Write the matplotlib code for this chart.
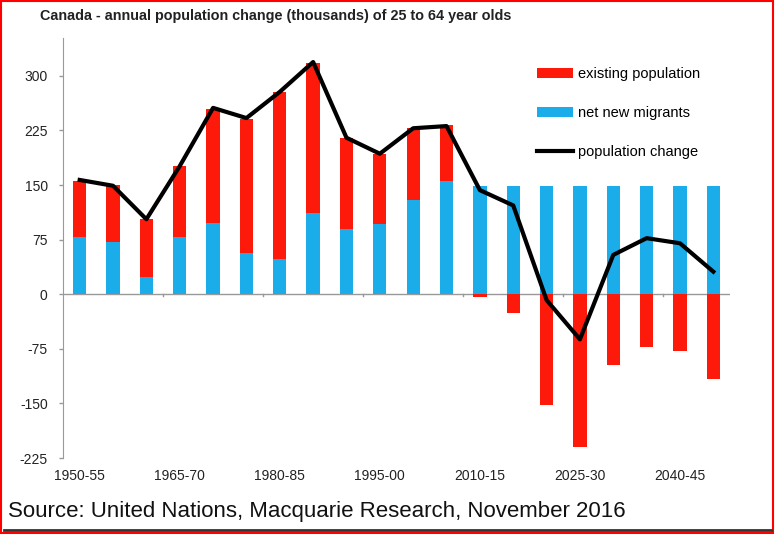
import matplotlib.pyplot as plt
from matplotlib.patches import Rectangle
from matplotlib.lines import Line2D

# periods (5-year), only every third one is labelled on the axis
periods = ['1950-55', '1955-60', '1960-65', '1965-70', '1970-75', '1975-80',
           '1980-85', '1985-90', '1990-95', '1995-00', '2000-05', '2005-10',
           '2010-15', '2015-20', '2020-25', '2025-30', '2030-35', '2035-40',
           '2040-45', '2045-50']
tick_labels = ['1950-55', '1965-70', '1980-85', '1995-00', '2010-15', '2025-30', '2040-45']

# thousands per year
net_new_migrants = [78, 72, 24, 78, 98, 56, 48, 111, 89, 97, 130, 156,
                    149, 149, 149, 149, 149, 149, 149, 149]
existing_population = [77, 78, 79, 98, 156, 185, 230, 207, 126, 96, 98, 76,
                       -4, -26, -152, -210, -97, -72, -78, -117]
population_change = [157, 149, 103, 176, 256, 242, 278, 319, 215, 193, 228, 231,
                     143, 122, -8, -62, 54, 77, 70, 31]

RED = '#fe1a0a'
BLUE = '#1badea'

plt.rcParams['font.family'] = ['Liberation Sans', 'DejaVu Sans']
plt.rcParams['axes.unicode_minus'] = False

fig = plt.figure(figsize=(7.75, 5.34), dpi=100)
ax = fig.add_axes([63 / 775, 76 / 534, 667 / 775, 420 / 534])

x = list(range(len(periods)))
red_bottom = [m if e > 0 else 0 for m, e in zip(net_new_migrants, existing_population)]

blue_bars = ax.bar(x, net_new_migrants, width=0.4, color=BLUE, zorder=2)
red_bars = ax.bar(x, existing_population, width=0.4, bottom=red_bottom, color=RED, zorder=2)
line, = ax.plot(x, population_change, color='black', lw=3, zorder=3)

ax.axhline(0, color='#999999', lw=1, zorder=1)

ax.set_xlim(-0.5, len(periods) - 0.5)
ax.set_ylim(-225, 352)
ax.set_yticks([-225, -150, -75, 0, 75, 150, 225, 300])
ax.tick_params(axis='y', direction='out', length=3, width=1, color='#999999',
               labelsize=10, pad=8, labelcolor='#222222')

# boundary tick marks on the zero line every third period, labels under the axis
ax.set_xticks([i for i in range(0, len(periods), 3)])
ax.set_xticklabels(tick_labels, fontsize=10, color='#222222')
ax.tick_params(axis='x', length=0, pad=8)
for b in [2.5, 5.5, 8.5, 11.5, 14.5, 17.5]:
    ax.plot([b, b], [0, -3], color='#999999', lw=1, zorder=1)

for s in ['top', 'right', 'bottom']:
    ax.spines[s].set_visible(False)
ax.spines['left'].set_color('#999999')

ax.legend([red_bars, blue_bars, line],
          ['existing population', 'net new migrants', 'population change'],
          loc='upper left', bbox_to_anchor=(537 / 775, 1 - 67 / 534),
          bbox_transform=fig.transFigure, frameon=False, fontsize=10.5,
          handlelength=2.5, handleheight=0.75, handletextpad=0.3,
          labelspacing=1.72, borderaxespad=0, borderpad=0)

fig.text(40 / 775, 1 - 16 / 534,
         'Canada - annual population change (thousands) of 25 to 64 year olds',
         fontsize=10.4, fontweight='bold', va='center', color='#222222')
fig.text(8 / 775, 1 - 512 / 534, 'Source: United Nations, Macquarie Research, November 2016',
         fontsize=16, va='center', color='#111111')

# frame of the original screenshot
fig.add_artist(Line2D([0.005, 0.995], [1 - 530 / 534] * 2, transform=fig.transFigure,
                      color='#333333', lw=2))
fig.add_artist(Rectangle((0.001, 0.001), 0.997, 0.997, transform=fig.transFigure,
                         fill=False, edgecolor='red', lw=1.5))

fig.savefig('out.png', dpi=100)
